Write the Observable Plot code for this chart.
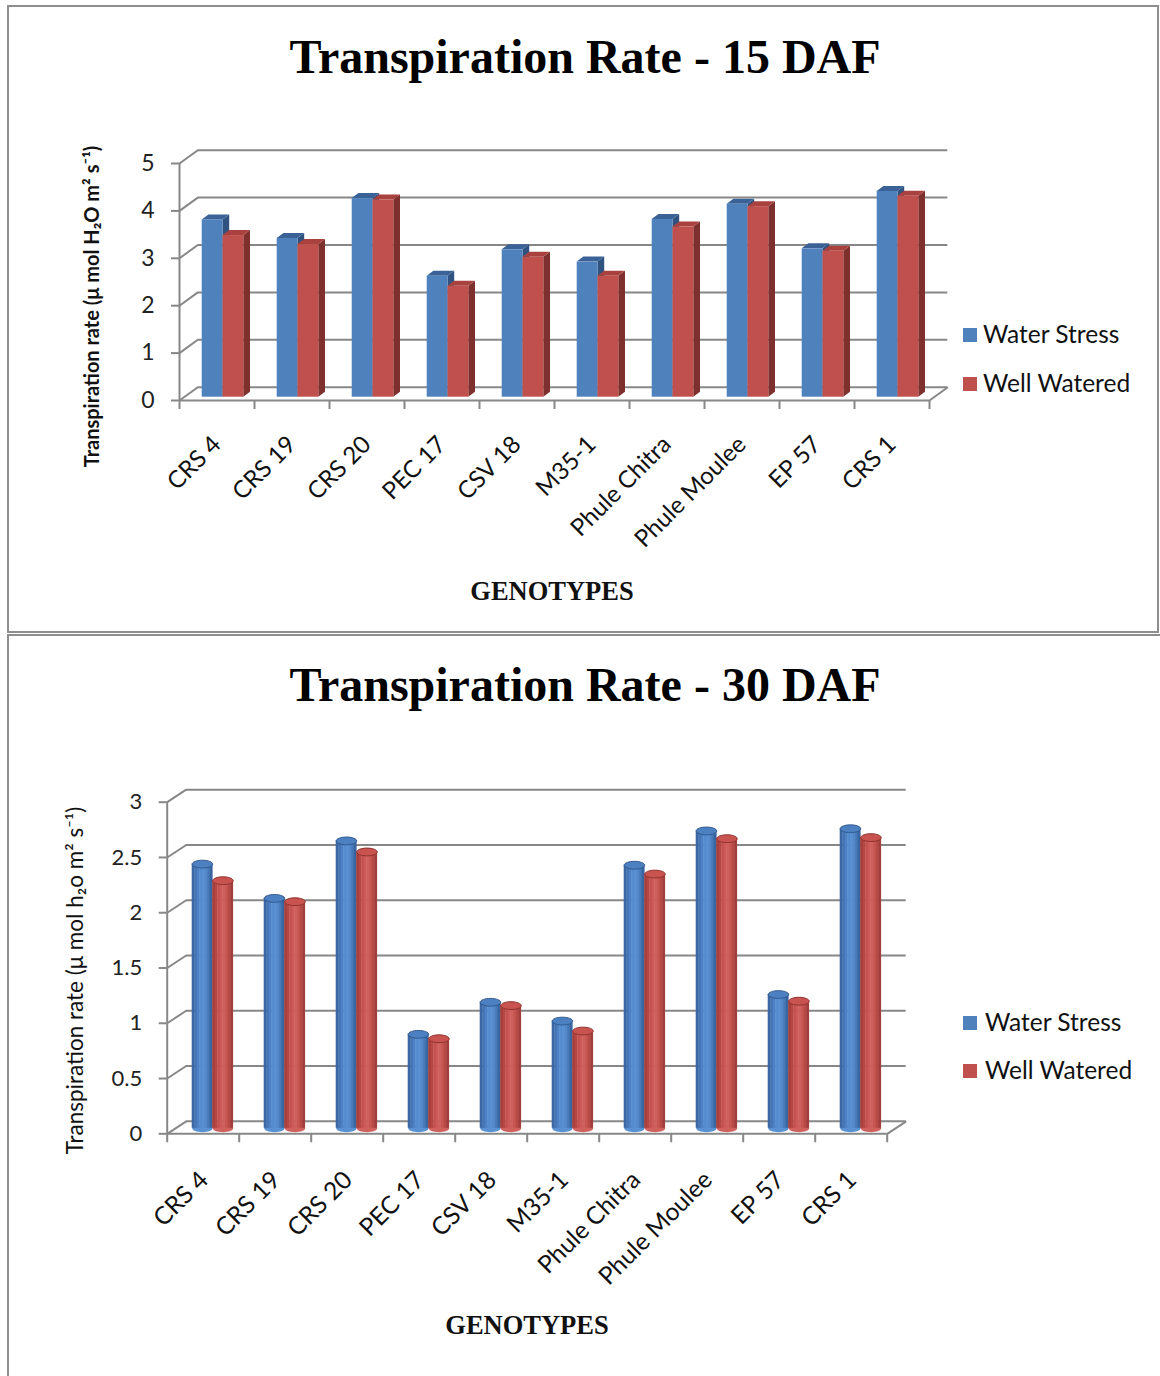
<!DOCTYPE html>
<html>
<head>
<meta charset="utf-8">
<script src="https://cdn.jsdelivr.net/npm/d3@7"></script>
<script src="https://cdn.jsdelivr.net/npm/@observablehq/plot@0.6"></script>
<style>
  body { margin: 0; background: #fff; }
  #page { position: relative; width: 1160px; height: 1376px; overflow: hidden; background: #fff; }
  #page svg { position: absolute; left: 0; }
  .panel { position: absolute; box-sizing: border-box; border: 2px solid #8e8e8e; pointer-events: none; }
</style>
</head>
<body>
<div id="page"></div>
<script>
// Genotypes and transpiration rates (µmol H2O m-2 s-1)
const genotypes = ["CRS 4", "CRS 19", "CRS 20", "PEC 17", "CSV 18", "M35-1", "Phule Chitra", "Phule Moulee", "EP 57", "CRS 1"];
const waterStress15 = [3.74, 3.35, 4.19, 2.55, 3.11, 2.85, 3.75, 4.07, 3.13, 4.34];
const wellWatered15 = [3.41, 3.22, 4.16, 2.34, 2.95, 2.55, 3.59, 4.02, 3.08, 4.24];
const waterStress30 = [2.39, 2.08, 2.60, 0.85, 1.14, 0.97, 2.38, 2.69, 1.21, 2.71];
const wellWatered30 = [2.24, 2.05, 2.50, 0.81, 1.11, 0.88, 2.30, 2.62, 1.15, 2.63];
const ticks15 = [0, 1, 2, 3, 4, 5];
const ticks30 = [0, 0.5, 1, 1.5, 2, 2.5, 3];
const seriesNames = ["Water Stress", "Well Watered"];
const seriesColors = ["#4F81BD", "#C0504D"];

const page = document.getElementById("page");
const GRID = "#878787";
const FONT = "Lato, 'Open Sans', sans-serif";

// Pseudo-3D frame: back wall grid, left wall diagonals, floor edges and ticks
function frameMarks(ticks, yMax, n, ux, uy, back) {
  const bx = ux(back.dx), by = uy(-back.dy);
  const line = {stroke: GRID, strokeWidth: 2};
  return [
    Plot.ruleY(ticks, {y: d => d, x1: bx, x2: n + bx, dy: back.dy, ...line}),
    Plot.link(ticks, {x1: 0, y1: d => d, x2: bx, y2: d => d + by, ...line}),
    Plot.ruleX([0], {y1: 0, y2: yMax, ...line}),
    Plot.ruleY([0], {x1: 0, x2: n, ...line}),
    Plot.link([n], {x1: d => d, y1: 0, x2: d => d + bx, y2: by, ...line}),
    Plot.ruleX(d3.range(n + 1), {x: d => d, y1: 0, y2: -uy(9), ...line}),
    Plot.ruleY(ticks, {y: d => d, x1: -ux(8), x2: 0, ...line})
  ];
}

// ---------- 15 DAF: box bars ----------
function chart15() {
  const W = 1160, H = 633, left = 179, right = 929, base = 400, top = 163;
  const n = genotypes.length, yMax = 5;
  const slot = (right - left) / n, unit = (base - top) / yMax;
  const ux = px => px / slot, uy = px => px / unit;
  const back = {dx: 18.3, dy: -13.3};
  const depth = {dx: 6.7, dy: 5};
  const barLeft = 22.7, barW = 20.8, lift = 3.3;
  const ex = ux(depth.dx), ey = uy(depth.dy);

  const bars = [];
  genotypes.forEach((g, i) => {
    [waterStress15, wellWatered15].forEach((vals, s) => {
      const a = i + ux(barLeft + s * barW);
      bars.push({g, s, v: vals[i], a, b: a + ux(barW)});
    });
  });
  const side = bars.flatMap(d => [
    {id: d.g, s: d.s, x: d.b, y1: 0, y2: d.v},
    {id: d.g, s: d.s, x: d.b + ex, y1: ey, y2: d.v + ey}
  ]);
  const cap = bars.flatMap(d => [
    {id: d.g, s: d.s, x: d.a, y1: d.v, y2: d.v},
    {id: d.g, s: d.s, x: d.a + ex, y1: d.v, y2: d.v + ey},
    {id: d.g, s: d.s, x: d.b, y1: d.v, y2: d.v + ey},
    {id: d.g, s: d.s, x: d.b + ex, y1: d.v + ey, y2: d.v + ey}
  ]);
  const sideColors = ["#2F5281", "#7E302E"];
  const capColors = ["#3A6297", "#A9423F"];

  const barMarks = [0, 1].flatMap(s => [
    Plot.areaY(side.filter(d => d.s === s), {x: "x", y1: "y1", y2: "y2", z: "id", fill: sideColors[s], dy: -lift}),
    Plot.areaY(cap.filter(d => d.s === s), {x: "x", y1: "y1", y2: "y2", z: "id", fill: capColors[s], dy: -lift}),
    Plot.rect(bars.filter(d => d.s === s), {x1: "a", x2: "b", y1: 0, y2: "v", fill: seriesColors[s], dy: -lift})
  ]);

  const svg = Plot.plot({
    width: W, height: H,
    marginLeft: left, marginRight: W - right, marginTop: top, marginBottom: H - base,
    x: {type: "linear", domain: [0, n], axis: null},
    y: {type: "linear", domain: [0, yMax], axis: null},
    style: {fontFamily: FONT, background: "transparent", color: "#000"},
    marks: [
      ...frameMarks(ticks15, yMax, n, ux, uy, back),
      ...barMarks,
      Plot.text(ticks15, {x: 0, y: d => d, text: d => String(d), textAnchor: "end", dx: -25, fontSize: 23, fill: "#222"}),
      Plot.text(genotypes, {x: (d, i) => i + 0.5, y: -uy(40), text: d => d, rotate: -45, textAnchor: "end", fontSize: 24, fill: "#111"}),
      Plot.text(["Transpiration rate (\u03bc mol H\u2082O m\u00b2 s\u207b\u00b9)"], {x: -ux(left - 92), y: uy(base - 306), text: d => d, rotate: -90, fontSize: 20, fontWeight: "bold", fill: "#111"})
    ]
  });
  svg.style.top = "0px";
  return svg;
}

// ---------- 30 DAF: cylinders ----------
const ellipse = ratio => ({
  draw(ctx, size) {
    const rx = Math.sqrt(size / Math.PI), ry = rx * ratio, k = 0.5523;
    ctx.moveTo(rx, 0);
    ctx.bezierCurveTo(rx, ry * k, rx * k, ry, 0, ry);
    ctx.bezierCurveTo(-rx * k, ry, -rx, ry * k, -rx, 0);
    ctx.bezierCurveTo(-rx, -ry * k, -rx * k, -ry, 0, -ry);
    ctx.bezierCurveTo(rx * k, -ry, rx, -ry * k, rx, 0);
    ctx.closePath();
  }
});

function chart30() {
  const offsetTop = 633;
  const W = 1160, H = 1376 - offsetTop, left = 166.7, right = 886.7, base = 1133.3 - offsetTop, top = 801.7 - offsetTop;
  const n = genotypes.length, yMax = 3;
  const slot = (right - left) / n, unit = (base - top) / yMax;
  const ux = px => px / slot, uy = px => px / unit;
  const back = {dx: 19, dy: -12.5};
  const cylLeft = 25, cylW = 20.5, lift = 5.5, strips = 8;
  const shades = [
    ["#3A67A3", "#4474B4", "#4D81C3", "#558CCF", "#5890D2", "#5188CA", "#4778B8", "#3A65A0"],
    ["#A63F3C", "#B64945", "#C4534F", "#CD5C58", "#D0605C", "#C85753", "#B84A46", "#A23E3B"]
  ];
  const capFill = ["#4D80C0", "#C9534F"], capStroke = ["#30588F", "#8F3431"];

  const cyl = [];
  genotypes.forEach((g, i) => {
    [waterStress30, wellWatered30].forEach((vals, s) => {
      const a = i + ux(cylLeft + s * cylW);
      cyl.push({g, s, v: vals[i], a, b: a + ux(cylW), c: a + ux(cylW / 2)});
    });
  });
  const body = cyl.flatMap(d => d3.range(strips).map(k => ({
    s: d.s, v: d.v,
    x1: d.a + (d.b - d.a) * k / strips,
    x2: d.a + (d.b - d.a) * (k + 1) / strips + ux(0.4),
    fill: shades[d.s][k]
  })));
  const ell = ellipse(0.38);
  const cylMarks = [0, 1].flatMap(s => [
    Plot.dot(cyl.filter(d => d.s === s), {x: "c", y: 0, r: cylW / 2, symbol: ell, fill: shades[s][4], stroke: "none", dy: -lift}),
    Plot.rect(body.filter(d => d.s === s), {x1: "x1", x2: "x2", y1: 0, y2: "v", fill: "fill", dy: -lift}),
    Plot.dot(cyl.filter(d => d.s === s), {x: "c", y: "v", r: cylW / 2, symbol: ell, fill: capFill[s], stroke: capStroke[s], strokeWidth: 1, dy: -lift})
  ]);

  const svg = Plot.plot({
    width: W, height: H,
    marginLeft: left, marginRight: W - right, marginTop: top, marginBottom: H - base,
    x: {type: "linear", domain: [0, n], axis: null},
    y: {type: "linear", domain: [0, yMax], axis: null},
    color: {type: "identity"},
    style: {fontFamily: FONT, background: "transparent", color: "#000"},
    marks: [
      ...frameMarks(ticks30, yMax, n, ux, uy, back),
      ...cylMarks,
      Plot.text(ticks30, {x: 0, y: d => d, text: d => String(d), textAnchor: "end", dx: -25, fontSize: 22, fill: "#222"}),
      Plot.text(genotypes, {x: (d, i) => i + 0.5 + ux(1), y: -uy(42), text: d => d, rotate: -45, textAnchor: "end", fontSize: 24.5, fill: "#111"}),
      Plot.text(["Transpiration rate (\u03bc mol h\u2082o m\u00b2 s\u207b\u00b9)"], {x: -ux(left - 75), y: uy(base - (980 - offsetTop)), text: d => d, rotate: -90, fontSize: 22.5, fill: "#111"})
    ]
  });
  svg.style.top = offsetTop + "px";
  return svg;
}

page.appendChild(chart15());
page.appendChild(chart30());

// Titles, axis titles and legends
const ann = d3.select(page).append("svg")
  .attr("width", 1160).attr("height", 1376)
  .style("top", "0px");

function annotate(titleText, titleY, genoX, genoY, legendY, legendX, legendSize) {
  ann.append("text").attr("x", 585).attr("y", titleY).attr("text-anchor", "middle")
    .attr("font-family", "'Liberation Serif', 'Times New Roman', serif").attr("font-weight", "bold")
    .attr("font-size", 48).attr("fill", "#000").text(titleText);
  ann.append("text").attr("x", genoX).attr("y", genoY).attr("text-anchor", "middle")
    .attr("font-family", "'Liberation Serif', 'Times New Roman', serif").attr("font-weight", "bold")
    .attr("font-size", 26.5).attr("fill", "#111").text("GENOTYPES");
  seriesNames.forEach((name, s) => {
    const y = legendY[s];
    ann.append("rect").attr("x", 963).attr("y", y - 15).attr("width", 14).attr("height", 14).attr("fill", seriesColors[s]);
    ann.append("text").attr("x", legendX).attr("y", y).attr("font-family", FONT)
      .attr("font-size", legendSize).attr("fill", "#111").text(name);
  });
}
annotate("Transpiration Rate - 15 DAF", 73, 552, 600, [343, 392], 983, 24.5);
annotate("Transpiration Rate - 30 DAF", 701, 527, 1334, [1031, 1079], 985, 24.5);

// Panel borders
const p1 = document.createElement("div");
p1.className = "panel";
Object.assign(p1.style, {left: "7px", top: "5px", width: "1152px", height: "628px"});
const p2 = document.createElement("div");
p2.className = "panel";
Object.assign(p2.style, {left: "7px", top: "634px", width: "1170px", height: "760px"});
page.appendChild(p1);
page.appendChild(p2);
</script>
</body>
</html>
